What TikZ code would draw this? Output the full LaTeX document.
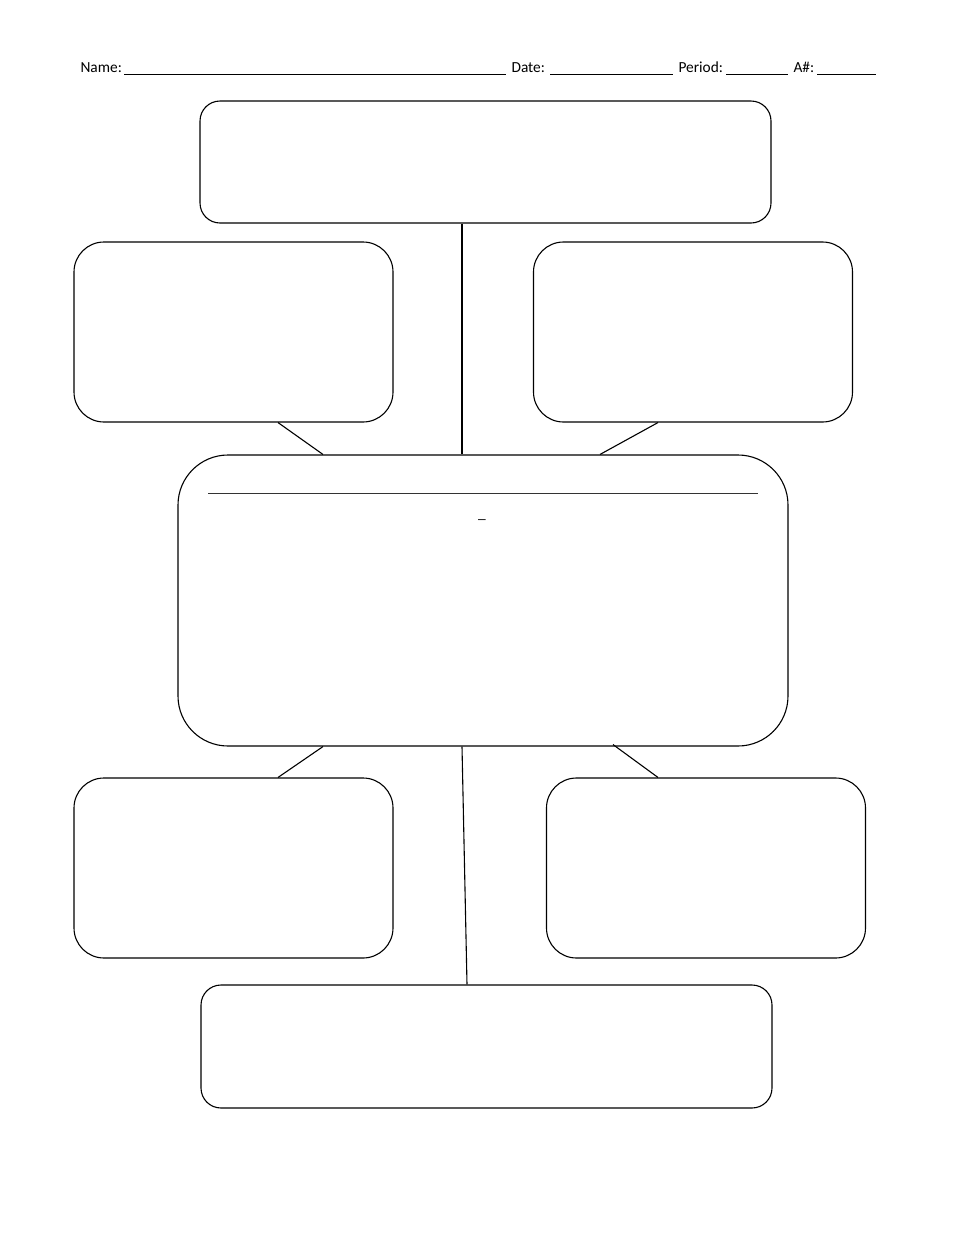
\documentclass[tikz,border=0pt]{standalone}
\usepackage{fontspec}
\setmainfont{Carlito}
\usepackage{tikz}
\usetikzlibrary{positioning,calc}
\newcommand{\pu}{0.6375pt}
\tikzstyle{panel}=[draw,rectangle,line width=0.7pt,inner sep=0pt]

\begin{document}
\begin{tikzpicture}[
  x=0.6375pt,
  y=-0.6375pt,
  line width=0.7pt,
  hdr/.style={anchor=base west,inner sep=0pt,font=\fontsize{9.8}{12}\selectfont},
  blank/.style={line width=0.6pt},
  smallbox/.style={panel,rounded corners=30*\pu,minimum width=319*\pu,minimum height=180*\pu},
  widebox/.style={panel,rounded corners=20*\pu,minimum width=571*\pu,minimum height=122*\pu}
]
\useasboundingbox (0,0) rectangle (960,1243);

% header
\node [hdr] (name) at (80,72.5) {Name:};
\node [hdr] (date) at (511,72.5) {Date:};
\node [hdr] (period) at (678,72.5) {Period:};
\node [hdr] (anum) at (793,72.5) {A\#:};
\coordinate (n1) at (124,74.5);
\coordinate (n2) at (506,74.5);
\coordinate (d1) at (550,74.5);
\coordinate (d2) at (673,74.5);
\coordinate (p1) at (726,74.5);
\coordinate (p2) at (788,74.5);
\coordinate (a1) at (817,74.5);
\coordinate (a2) at (876,74.5);
\draw [blank] (n1) -- (n2);
\draw [blank] (d1) -- (d2);
\draw [blank] (p1) -- (p2);
\draw [blank] (a1) -- (a2);

% boxes
\node [widebox] (top) at (485.5,162) {};
\node [smallbox] (lu) at (233.5,332) {};
\node [smallbox] (ru) at (693,332) {};
\node [panel,rounded corners=50*\pu,minimum width=610*\pu,minimum height=291*\pu] (mid) at (483,600.5) {};
\node [smallbox] (ll) at (233.5,868) {};
\node [smallbox] (rl) at (706,868) {};
\node [widebox,minimum height=123*\pu] (bot) at (486.5,1046.5) {};

% inside the middle box
\coordinate (m1) at (208,493);
\coordinate (m2) at (758,493);
\draw [line width=0.6pt,black!80] (m1) -- (m2);
\node [hdr,anchor=base] (dash) at (482,518) {\_};

% connectors
\draw ([xshift=-23.5*\pu]top.south) -- ([xshift=-21*\pu]mid.north);
\draw ([xshift=44.5*\pu]lu.south) -- ([xshift=-160*\pu]mid.north);
\draw ([xshift=-35*\pu]ru.south) -- ([xshift=117*\pu]mid.north);
\draw ([xshift=-160*\pu]mid.south) -- ([xshift=44.5*\pu]ll.north);
\draw ([xshift=130*\pu,yshift=2*\pu]mid.south) -- ([xshift=-48*\pu]rl.north);
\draw ([xshift=-21*\pu]mid.south) -- ([xshift=-19.5*\pu]bot.north);

\end{tikzpicture}
\end{document}
